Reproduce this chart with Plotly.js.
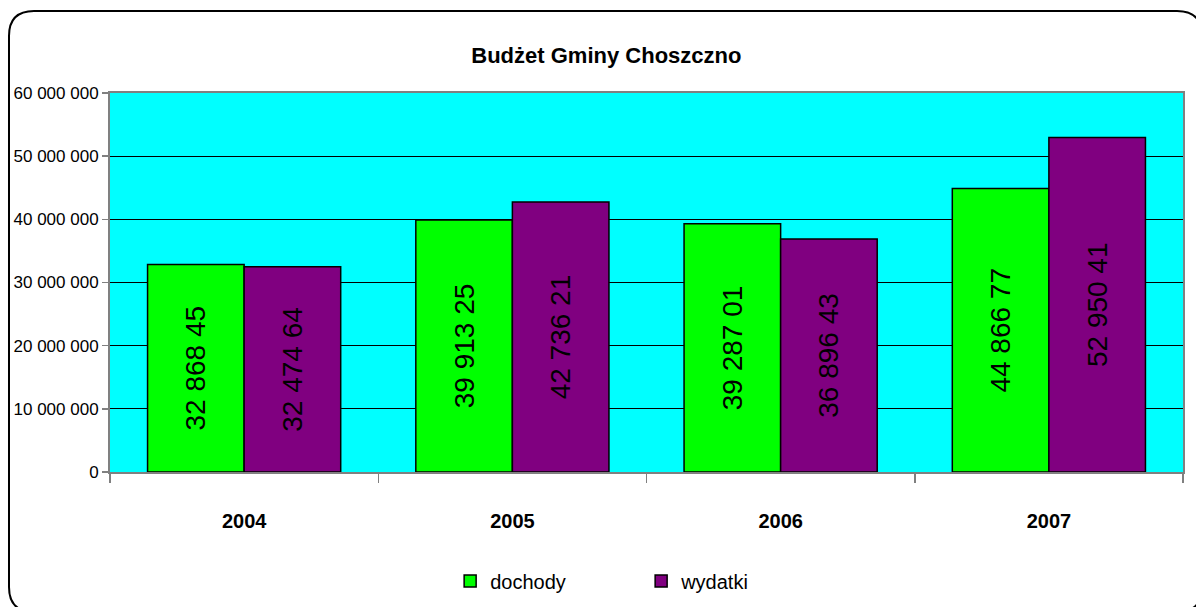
<!DOCTYPE html>
<html>
<head>
<meta charset="utf-8">
<script src="https://cdn.plot.ly/plotly-3.0.1.min.js"></script>
<style>
html, body { margin:0; padding:0; width:1196px; height:607px; overflow:hidden; background:#fff; }
#chart { position:absolute; left:0; top:0; width:1196px; height:607px; }
</style>
</head>
<body>
<div id="chart"></div>
<script>
var years = ['2004', '2005', '2006', '2007'];
var dochody = [32868450, 39913250, 39287010, 44866770];
var wydatki = [32474640, 42736210, 36896430, 52950410];
var dochodyLabels = ['32 868 45', '39 913 25', '39 287 01', '44 866 77'];
var wydatkiLabels = ['32 474 64', '42 736 21', '36 896 43', '52 950 41'];
var yTickVals = [0, 10000000, 20000000, 30000000, 40000000, 50000000, 60000000];
var yTickText = ['0', '10 000 000', '20 000 000', '30 000 000', '40 000 000', '50 000 000', '60 000 000'];

var sans = '"Liberation Sans", Arial, sans-serif';
var barText = {family: sans, size: 28, color: '#000'};

// plot area geometry in pixels (margins)
var W = 1196, H = 607, mL = 110, mR = 13, mT = 93, mB = 135;
var pw = W - mL - mR, ph = H - mT - mB;
function px(x) { return ((x - mL) / pw).toFixed(5); }
function py(y) { return ((H - mB - y) / ph).toFixed(5); }

// rounded outer frame (decoration)
var fL = 9, fT = 11, fR = 1202, fB = 612, rad = 25;
var framePath =
  'M' + px(fL + rad) + ',' + py(fT) +
  ' L' + px(fR - rad) + ',' + py(fT) +
  ' Q' + px(fR) + ',' + py(fT) + ' ' + px(fR) + ',' + py(fT + rad) +
  ' L' + px(fR) + ',' + py(fB - rad) +
  ' Q' + px(fR) + ',' + py(fB) + ' ' + px(fR - rad) + ',' + py(fB) +
  ' L' + px(fL + rad) + ',' + py(fB) +
  ' Q' + px(fL) + ',' + py(fB) + ' ' + px(fL) + ',' + py(fB - rad) +
  ' L' + px(fL) + ',' + py(fT + rad) +
  ' Q' + px(fL) + ',' + py(fT) + ' ' + px(fL + rad) + ',' + py(fT) + ' Z';

var traces = [
  {
    type: 'bar', name: 'dochody', x: years, y: dochody,
    text: dochodyLabels, textposition: 'inside', insidetextanchor: 'middle', textangle: -90,
    textfont: barText, insidetextfont: barText,
    marker: {color: '#00FF00', line: {color: '#000', width: 1.5}},
    hoverinfo: 'skip'
  },
  {
    type: 'bar', name: 'wydatki', x: years, y: wydatki,
    text: wydatkiLabels, textposition: 'inside', insidetextanchor: 'middle', textangle: -90,
    textfont: barText, insidetextfont: barText,
    marker: {color: '#800080', line: {color: '#000', width: 1.5}},
    hoverinfo: 'skip'
  }
];

var layout = {
  width: W, height: H,
  margin: {l: mL, r: mR, t: mT, b: mB, pad: 0},
  paper_bgcolor: '#fff',
  plot_bgcolor: '#00FFFF',
  barmode: 'group', bargap: 0.28, bargroupgap: 0,
  title: {
    text: '<b>Budżet Gminy Choszczno</b>',
    font: {family: sans, size: 22, color: '#000'},
    xref: 'container', x: 0.507, xanchor: 'center',
    yref: 'container', y: 1 - 55/607, yanchor: 'middle'
  },
  xaxis: {
    type: 'category', tickson: 'boundaries', ticks: 'outside', ticklen: 9, tickwidth: 1.5, tickcolor: '#808080',
    showline: true, linecolor: '#808080', linewidth: 2, mirror: true,
    showgrid: false, zeroline: false,
    tickfont: {family: sans, size: 20, color: '#000', weight: 'bold'},
    ticklabelstandoff: 30
  },
  yaxis: {
    range: [0, 60000000], tickmode: 'array', tickvals: yTickVals, ticktext: yTickText,
    ticks: 'outside', ticklen: 6, tickwidth: 1.5, tickcolor: '#808080',
    showline: true, linecolor: '#808080', linewidth: 2, mirror: true,
    showgrid: true, gridcolor: '#000', gridwidth: 1, zeroline: false,
    tickfont: {family: sans, size: 17, color: '#000'}
  },
  showlegend: true,
  legend: {
    orientation: 'h', xref: 'paper', x: 0.495, xanchor: 'center',
    yref: 'container', y: 1 - 581/607, yanchor: 'middle',
    font: {family: sans, size: 20, color: '#000'},
    bgcolor: 'rgba(0,0,0,0)', traceorder: 'normal', entrywidth: 146
  },
  shapes: [{
    type: 'path', xref: 'paper', yref: 'paper', path: framePath,
    line: {color: '#000', width: 2}, fillcolor: 'rgba(0,0,0,0)', layer: 'above'
  }]
};

Plotly.newPlot('chart', traces, layout, {staticPlot: true, displayModeBar: false});
</script>
</body>
</html>
